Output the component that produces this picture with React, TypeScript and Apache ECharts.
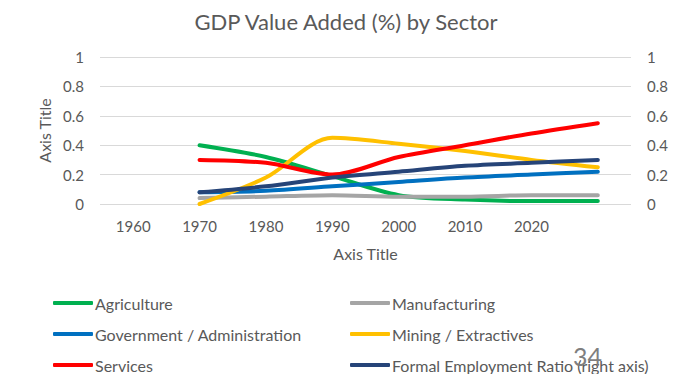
import React, { useEffect, useRef } from "react";
import * as echarts from "echarts";

const categories = ["1960", "1970", "1980", "1990", "2000", "2010", "2020", ""];
const agriculture = [null, 0.4, 0.32, 0.19, 0.06, 0.03, 0.02, 0.02];
const manufacturing = [null, 0.04, 0.05, 0.06, 0.05, 0.05, 0.06, 0.06];
const government = [null, 0.08, 0.09, 0.12, 0.15, 0.18, 0.2, 0.22];
const mining = [null, 0.0, 0.18, 0.45, 0.41, 0.36, 0.3, 0.25];
const services = [null, 0.3, 0.28, 0.2, 0.32, 0.4, 0.48, 0.55];
const formalEmployment = [null, 0.08, 0.12, 0.18, 0.22, 0.26, 0.28, 0.3];

const FONT = "Lato, 'Open Sans', sans-serif";
const GRAY = "#595959";

export default function App() {
  const ref = useRef<HTMLDivElement>(null);
  useEffect(() => {
    if (!ref.current) return;
    const chart = echarts.init(ref.current, undefined, { renderer: "svg" });
    const mk = (name: string, data: (number | null)[], color: string, yAxisIndex = 0) => ({
      name,
      type: "line",
      data,
      yAxisIndex,
      smooth: 0.3,
      showSymbol: false,
      symbol: "none",
      lineStyle: { color, width: 4, cap: "round" },
      itemStyle: { color },
      z: 2,
    });
    const legendItem = (name: string, left: number, top: number) => ({
      data: [name],
      left,
      top,
      icon: "roundRect",
      itemWidth: 40,
      itemHeight: 4,
      padding: 0,
      textStyle: { color: GRAY, fontSize: 16, fontFamily: FONT, padding: [0, 0, 0, -3] },
    });
    const yAxisCommon = {
      type: "value",
      min: 0,
      max: 1,
      interval: 0.2,
      axisLine: { show: false },
      axisTick: { show: false },
      axisLabel: {
        color: GRAY,
        fontSize: 15,
        fontFamily: FONT,
        margin: 16,
        formatter: (v: number) => String(Number(v.toFixed(1))),
      },
    };
    chart.setOption({
      animation: false,
      backgroundColor: "#ffffff",
      title: {
        text: "GDP Value Added (%) by Sector",
        left: "center",
        top: 5,
        textStyle: { color: GRAY, fontSize: 22, fontWeight: "normal", fontFamily: FONT },
      },
      grid: { left: 100, right: 61, top: 57, bottom: 170 },
      xAxis: {
        type: "category",
        data: categories,
        boundaryGap: true,
        name: "Axis Title",
        nameLocation: "middle",
        nameGap: 41,
        nameTextStyle: { color: GRAY, fontSize: 16, fontFamily: FONT },
        axisLine: { show: false },
        axisTick: { show: false },
        axisLabel: { color: GRAY, fontSize: 15, fontFamily: FONT, margin: 14 },
      },
      yAxis: [
        {
          ...yAxisCommon,
          name: "Axis Title",
          nameLocation: "middle",
          nameGap: 44,
          nameTextStyle: { color: GRAY, fontSize: 16, fontFamily: FONT },
          splitLine: { show: true, lineStyle: { color: "#d9d9d9", width: 1 } },
        },
        {
          ...yAxisCommon,
          position: "right",
          splitLine: { show: false },
        },
      ],
      legend: [
        legendItem("Agriculture", 53, 295),
        legendItem("Manufacturing", 350, 295),
        legendItem("Government / Administration", 53, 326),
        legendItem("Mining / Extractives", 350, 326),
        legendItem("Services", 53, 357),
        legendItem("Formal Employment Ratio (right axis)", 350, 357),
      ],
      graphic: [
        {
          type: "text",
          x: 573,
          y: 356,
          z: 100,
          style: { text: "34", fill: "#7f7f7f", fontSize: 25, fontFamily: FONT, verticalAlign: "middle" },
        },
      ],
      series: [
        mk("Agriculture", agriculture, "#00b050"),
        mk("Manufacturing", manufacturing, "#a5a5a5"),
        mk("Government / Administration", government, "#0070c0"),
        mk("Mining / Extractives", mining, "#ffc000"),
        mk("Services", services, "#ff0000"),
        mk("Formal Employment Ratio (right axis)", formalEmployment, "#264478", 1),
      ],
    });
    return () => chart.dispose();
  }, []);
  return <div ref={ref} style={{ width: 692, height: 374, position: "absolute", left: 0, top: 0 }} />;
}
